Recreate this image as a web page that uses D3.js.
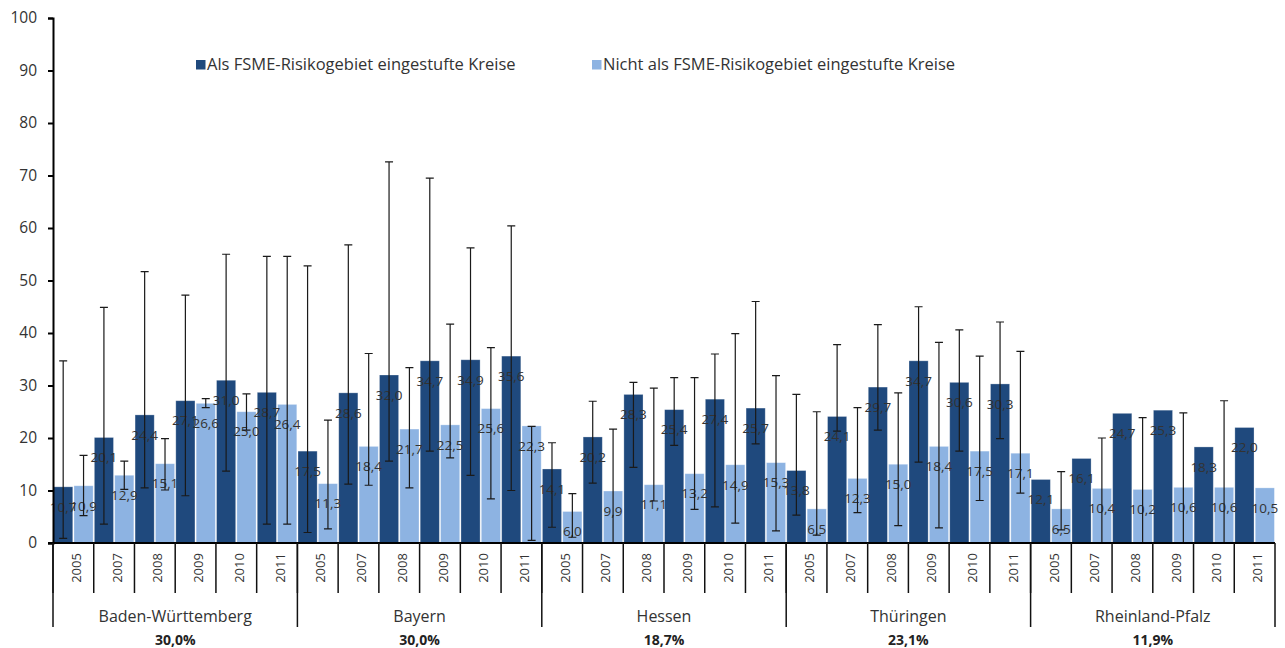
<!DOCTYPE html>
<html lang="de">
<head>
    <meta charset="UTF-8">
    <script src="https://d3js.org/d3.v7.min.js"></script>
    <title>FSME</title>
    <style>
        body {
            margin: 0;
            background: #fff;
        }
        svg {
            font-family: 'Open Sans', sans-serif;
            fill: #333;
        }
        .sep {
            stroke: #111;
            stroke-width: 1.5px;
        }
        .err {
            stroke: #1a1a1a;
            stroke-width: 1.2px;
            fill: none;
        }
    </style>
</head>
<body>
    <svg width="1285" height="648"></svg>

    <script>
        const states = ['Baden-Württemberg', 'Bayern', 'Hessen', 'Thüringen', 'Rheinland-Pfalz'];
        const stateShares = ['30,0%', '30,0%', '18,7%', '23,1%', '11,9%'];
        const years = ['2005', '2007', '2008', '2009', '2010', '2011'];
        const yTicks = [0, 10, 20, 30, 40, 50, 60, 70, 80, 90, 100];
        const seriesNames = ['Als FSME-Risikogebiet eingestufte Kreise', 'Nicht als FSME-Risikogebiet eingestufte Kreise'];

        // one entry per state and year, in the order above
        const riskValues = [
            10.7, 20.1, 24.4, 27.1, 31.0, 28.7,
            17.5, 28.6, 32.0, 34.7, 34.9, 35.6,
            14.1, 20.2, 28.3, 25.4, 27.4, 25.7,
            13.8, 24.1, 29.7, 34.7, 30.6, 30.3,
            12.1, 16.1, 24.7, 25.3, 18.3, 22.0
        ];
        const riskLow = [
            0.9, 3.6, 10.5, 9.0, 13.7, 3.6,
            2.0, 11.2, 15.6, 17.5, 12.9, 10.0,
            3.0, 11.4, 14.4, 18.6, 6.9, 18.9,
            5.3, 21.3, 21.5, 15.4, 17.5, 19.9,
            null, null, null, null, null, null
        ];
        const riskHigh = [
            34.7, 44.9, 51.7, 47.2, 55.0, 54.6,
            52.8, 56.8, 72.6, 69.5, 56.2, 60.4,
            19.1, 27.0, 30.6, 31.5, 36.0, 46.0,
            28.3, 37.8, 41.6, 45.0, 40.6, 42.1,
            null, null, null, null, null, null
        ];
        const otherValues = [
            10.9, 12.9, 15.1, 26.6, 25.0, 26.4,
            11.3, 18.4, 21.7, 22.5, 25.6, 22.3,
            6.0, 9.9, 11.1, 13.2, 14.9, 15.3,
            6.5, 12.3, 15.0, 18.4, 17.5, 17.1,
            6.5, 10.4, 10.2, 10.6, 10.6, 10.5
        ];
        const otherLow = [
            5.2, 10.2, 10.1, 25.8, 21.5, 3.6,
            2.7, 11.0, 10.5, 16.2, 8.4, 0.5,
            1.1, 0, 8.0, 6.4, 3.8, 2.3,
            1.5, 5.8, 3.3, 2.9, 8.1, 9.5,
            2.5, 0, 0, 0, 0, null
        ];
        const otherHigh = [
            16.7, 15.6, 19.9, 27.5, 28.4, 54.6,
            23.4, 36.1, 33.4, 41.7, 37.2, 22.2,
            9.4, 21.7, 29.5, 31.5, 39.9, 31.9,
            25.0, 25.8, 28.6, 38.2, 35.6, 36.5,
            13.6, 20.0, 23.9, 24.8, 27.1, null
        ];

        const colors = ['#1f497d', '#8db3e2'];

        const plotLeft = 53;
        const plotRight = 1275;
        const plotTop = 18;
        const plotBottom = 543;

        const svg = d3.select('svg');

        const cats = [];
        states.forEach(s => years.forEach(yr => cats.push(s + '|' + yr)));

        const rows = [];
        cats.forEach((c, i) => {
            rows.push({ cat: c, s: 0, v: riskValues[i], lo: riskLow[i], hi: riskHigh[i] });
            rows.push({ cat: c, s: 1, v: otherValues[i], lo: otherLow[i], hi: otherHigh[i] });
        });

        const x = d3.scaleBand().domain(cats).range([plotLeft, plotRight]).padding(0);
        const xs = d3.scaleBand().domain([0, 1]).range([0, x.bandwidth()])
            .paddingInner(0.06).paddingOuter(0.03);
        const y = d3.scaleLinear().domain([0, 100]).range([plotBottom, plotTop]);
        const stateX = d3.scaleBand().domain(states).range([plotLeft, plotRight]);

        const fmt = v => d3.format('.1f')(v).replace('.', ',');

        // bars
        svg.append('g')
            .selectAll('rect')
            .data(rows)
            .enter().append('rect')
            .attr('x', d => x(d.cat) + xs(d.s))
            .attr('width', xs.bandwidth())
            .attr('y', d => y(d.v))
            .attr('height', d => y(0) - y(d.v))
            .attr('fill', d => colors[d.s])
            .attr('stroke', '#fff')
            .attr('stroke-opacity', 0.35)
            .attr('stroke-width', 0.8);

        // value labels, a bit below the top of each bar
        svg.append('g')
            .selectAll('text')
            .data(rows)
            .enter().append('text')
            .attr('x', d => x(d.cat) + xs(d.s) + xs.bandwidth() / 2)
            .attr('y', d => y(d.v) + 20)
            .attr('dy', '0.35em')
            .attr('text-anchor', 'middle')
            .attr('font-size', 13.5)
            .attr('fill', '#333')
            .text(d => fmt(d.v));

        // error bars
        const errRows = rows.filter(d => d.lo !== null);
        svg.append('g')
            .selectAll('path')
            .data(errRows)
            .enter().append('path')
            .attr('class', 'err')
            .attr('d', d => {
                const cx = x(d.cat) + xs(d.s) + xs.bandwidth() / 2;
                const y0 = y(d.lo);
                const y1 = y(d.hi);
                return `M${cx},${y0}V${y1}M${cx - 4},${y1}H${cx + 4}M${cx - 4},${y0}H${cx + 4}`;
            });

        // y axis
        const yAxis = svg.append('g')
            .attr('transform', `translate(${plotLeft},0)`)
            .call(d3.axisLeft(y).tickValues(yTicks).tickSize(5).tickPadding(11));
        yAxis.select('.domain').attr('stroke', '#000').attr('stroke-width', 2);
        yAxis.selectAll('.tick line').attr('stroke', '#000').attr('stroke-width', 2);
        yAxis.selectAll('.tick text')
            .attr('font-size', 15.5)
            .attr('font-family', 'Open Sans, sans-serif')
            .attr('fill', '#333');

        // x axis baseline
        svg.append('line')
            .attr('x1', plotLeft - 5)
            .attr('x2', plotRight)
            .attr('y1', plotBottom)
            .attr('y2', plotBottom)
            .attr('stroke', '#000')
            .attr('stroke-width', 2);

        // year separators and labels
        svg.append('g')
            .selectAll('line')
            .data(cats)
            .enter().append('line')
            .attr('class', 'sep')
            .attr('x1', d => x(d))
            .attr('x2', d => x(d))
            .attr('y1', plotBottom)
            .attr('y2', 593);

        svg.append('g')
            .selectAll('text')
            .data(cats)
            .enter().append('text')
            .attr('transform', d => `translate(${x(d) + x.bandwidth() / 2 + 3},568) rotate(-90)`)
            .attr('text-anchor', 'middle')
            .attr('dy', '0.35em')
            .attr('font-size', 13)
            .attr('fill', '#333')
            .text(d => d.split('|')[1]);

        // state separators, names and shares
        svg.append('g')
            .selectAll('line')
            .data(states.concat(['end']))
            .enter().append('line')
            .attr('class', 'sep')
            .attr('x1', d => d === 'end' ? plotRight : stateX(d))
            .attr('x2', d => d === 'end' ? plotRight : stateX(d))
            .attr('y1', plotBottom)
            .attr('y2', 627);

        svg.append('g')
            .selectAll('text')
            .data(states)
            .enter().append('text')
            .attr('x', d => stateX(d) + stateX.bandwidth() / 2)
            .attr('y', 622)
            .attr('text-anchor', 'middle')
            .attr('font-size', 16)
            .attr('fill', '#333')
            .text(d => d);

        svg.append('g')
            .selectAll('text')
            .data(states)
            .enter().append('text')
            .attr('x', d => stateX(d) + stateX.bandwidth() / 2)
            .attr('y', 645)
            .attr('text-anchor', 'middle')
            .attr('font-size', 14)
            .attr('font-weight', 'bold')
            .attr('fill', '#222')
            .text((d, i) => stateShares[i]);

        // legend
        const legendX = [196, 592];
        const legend = svg.append('g')
            .selectAll('g')
            .data(seriesNames)
            .enter().append('g')
            .attr('transform', (d, i) => `translate(${legendX[i]},60)`);

        legend.append('rect')
            .attr('width', 9.5)
            .attr('height', 9.5)
            .attr('fill', (d, i) => colors[i]);

        legend.append('text')
            .attr('x', 11)
            .attr('y', 10)
            .attr('font-size', 16.5)
            .attr('fill', '#333')
            .text(d => d);
    </script>
</body>
</html>
